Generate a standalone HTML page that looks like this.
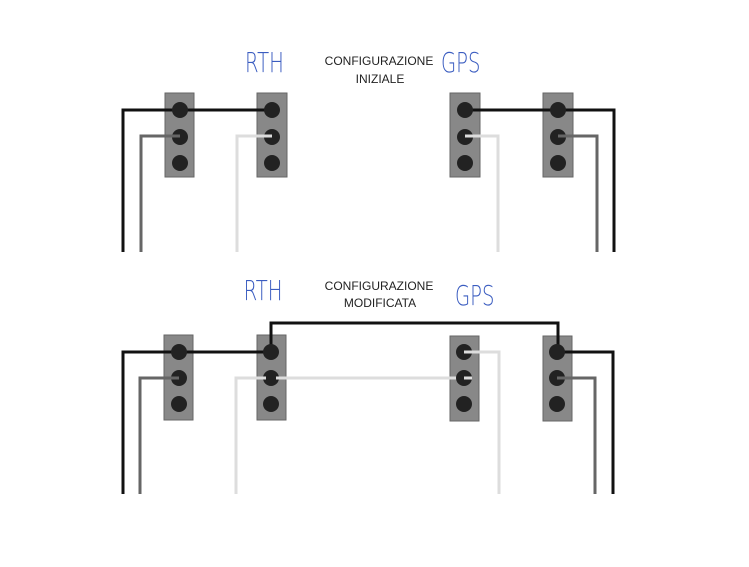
<!DOCTYPE html>
<html><head><style>body{margin:0;background:#fff}</style></head><body>
<svg width="749" height="567" xmlns="http://www.w3.org/2000/svg" style="display:block">
<g fill="#888" stroke="#666" stroke-width="1">
<rect x="165" y="93" width="29" height="84"/><rect x="257" y="93" width="30" height="84"/>
<rect x="450" y="93" width="30" height="84"/><rect x="543" y="93" width="30" height="84"/>
<rect x="164" y="335" width="29" height="85"/><rect x="257" y="335" width="29" height="85"/>
<rect x="450" y="336" width="29" height="85"/><rect x="543" y="336" width="29" height="85"/>
</g>
<g fill="none" stroke-width="3">
<polyline points="123,252 123,110 271,110" stroke="#111"/>
<polyline points="141,252 141,136 172,136" stroke="#666"/>
<polyline points="237,252 237,136 264,136" stroke="#ddd"/>
<polyline points="614,252 614,110 465,110" stroke="#111"/>
<polyline points="597,252 597,136 566,136" stroke="#666"/>
<polyline points="498,252 498,136 473,136" stroke="#ddd"/>
<polyline points="123,494 123,352 271,352" stroke="#111"/>
<polyline points="271,352 271,323 558,323 558,352" stroke="#111"/>
<polyline points="140,494 140,378 171,378" stroke="#666"/>
<polyline points="236,494 236,378 464,378" stroke="#ddd"/>
<polyline points="499,494 499,352 472,352" stroke="#ddd"/>
<polyline points="613,494 613,352 558,352" stroke="#111"/>
<polyline points="595,494 595,378 565,378" stroke="#666"/>
</g>
<g fill="#222">
<circle cx="180" cy="110" r="8"/><circle cx="180" cy="137" r="8"/><circle cx="180" cy="163" r="8"/>
<circle cx="272" cy="110" r="8"/><circle cx="272" cy="137" r="8"/><circle cx="272" cy="163" r="8"/>
<circle cx="465" cy="110" r="8"/><circle cx="465" cy="137" r="8"/><circle cx="465" cy="163" r="8"/>
<circle cx="558" cy="110" r="8"/><circle cx="558" cy="137" r="8"/><circle cx="558" cy="163" r="8"/>
<circle cx="179" cy="352" r="8"/><circle cx="179" cy="378" r="8"/><circle cx="179" cy="404" r="8"/>
<circle cx="271" cy="352" r="8"/><circle cx="271" cy="378" r="8"/><circle cx="271" cy="404" r="8"/>
<circle cx="464" cy="352" r="8"/><circle cx="464" cy="378" r="8"/><circle cx="464" cy="404" r="8"/>
<circle cx="557" cy="352" r="8"/><circle cx="557" cy="378" r="8"/><circle cx="557" cy="404" r="8"/>
</g>
<g stroke-width="3" fill="none">
<line x1="172" y1="136" x2="180" y2="136" stroke="#666"/>
<line x1="264" y1="136" x2="272" y2="136" stroke="#ddd"/>
<line x1="465" y1="136" x2="473" y2="136" stroke="#ddd"/>
<line x1="558" y1="136" x2="566" y2="136" stroke="#666"/>
<line x1="171" y1="378" x2="179" y2="378" stroke="#666"/>
<line x1="262" y1="378" x2="266" y2="378" stroke="#ddd"/><line x1="276" y1="378" x2="280" y2="378" stroke="#ddd"/>
<line x1="464" y1="378" x2="472" y2="378" stroke="#ddd"/>
<line x1="464" y1="352" x2="472" y2="352" stroke="#ddd"/>
<line x1="557" y1="378" x2="565" y2="378" stroke="#666"/>
</g>
<g font-family="Liberation Sans, sans-serif" font-size="12" fill="#222" text-anchor="middle">
<text x="379" y="65">CONFIGURAZIONE</text><text x="380" y="83">INIZIALE</text>
<text x="379" y="290">CONFIGURAZIONE</text><text x="380" y="307">MODIFICATA</text>
</g>
<g font-family="DejaVu Sans, sans-serif" font-size="28" fill="#3a5cc0" font-weight="200" transform="scale(0.7,1)">
<text x="350" y="72">RTH</text><text x="630" y="72">GPS</text>
<text x="348" y="300">RTH</text><text x="650" y="305">GPS</text>
</g>
</svg>
</body></html>
